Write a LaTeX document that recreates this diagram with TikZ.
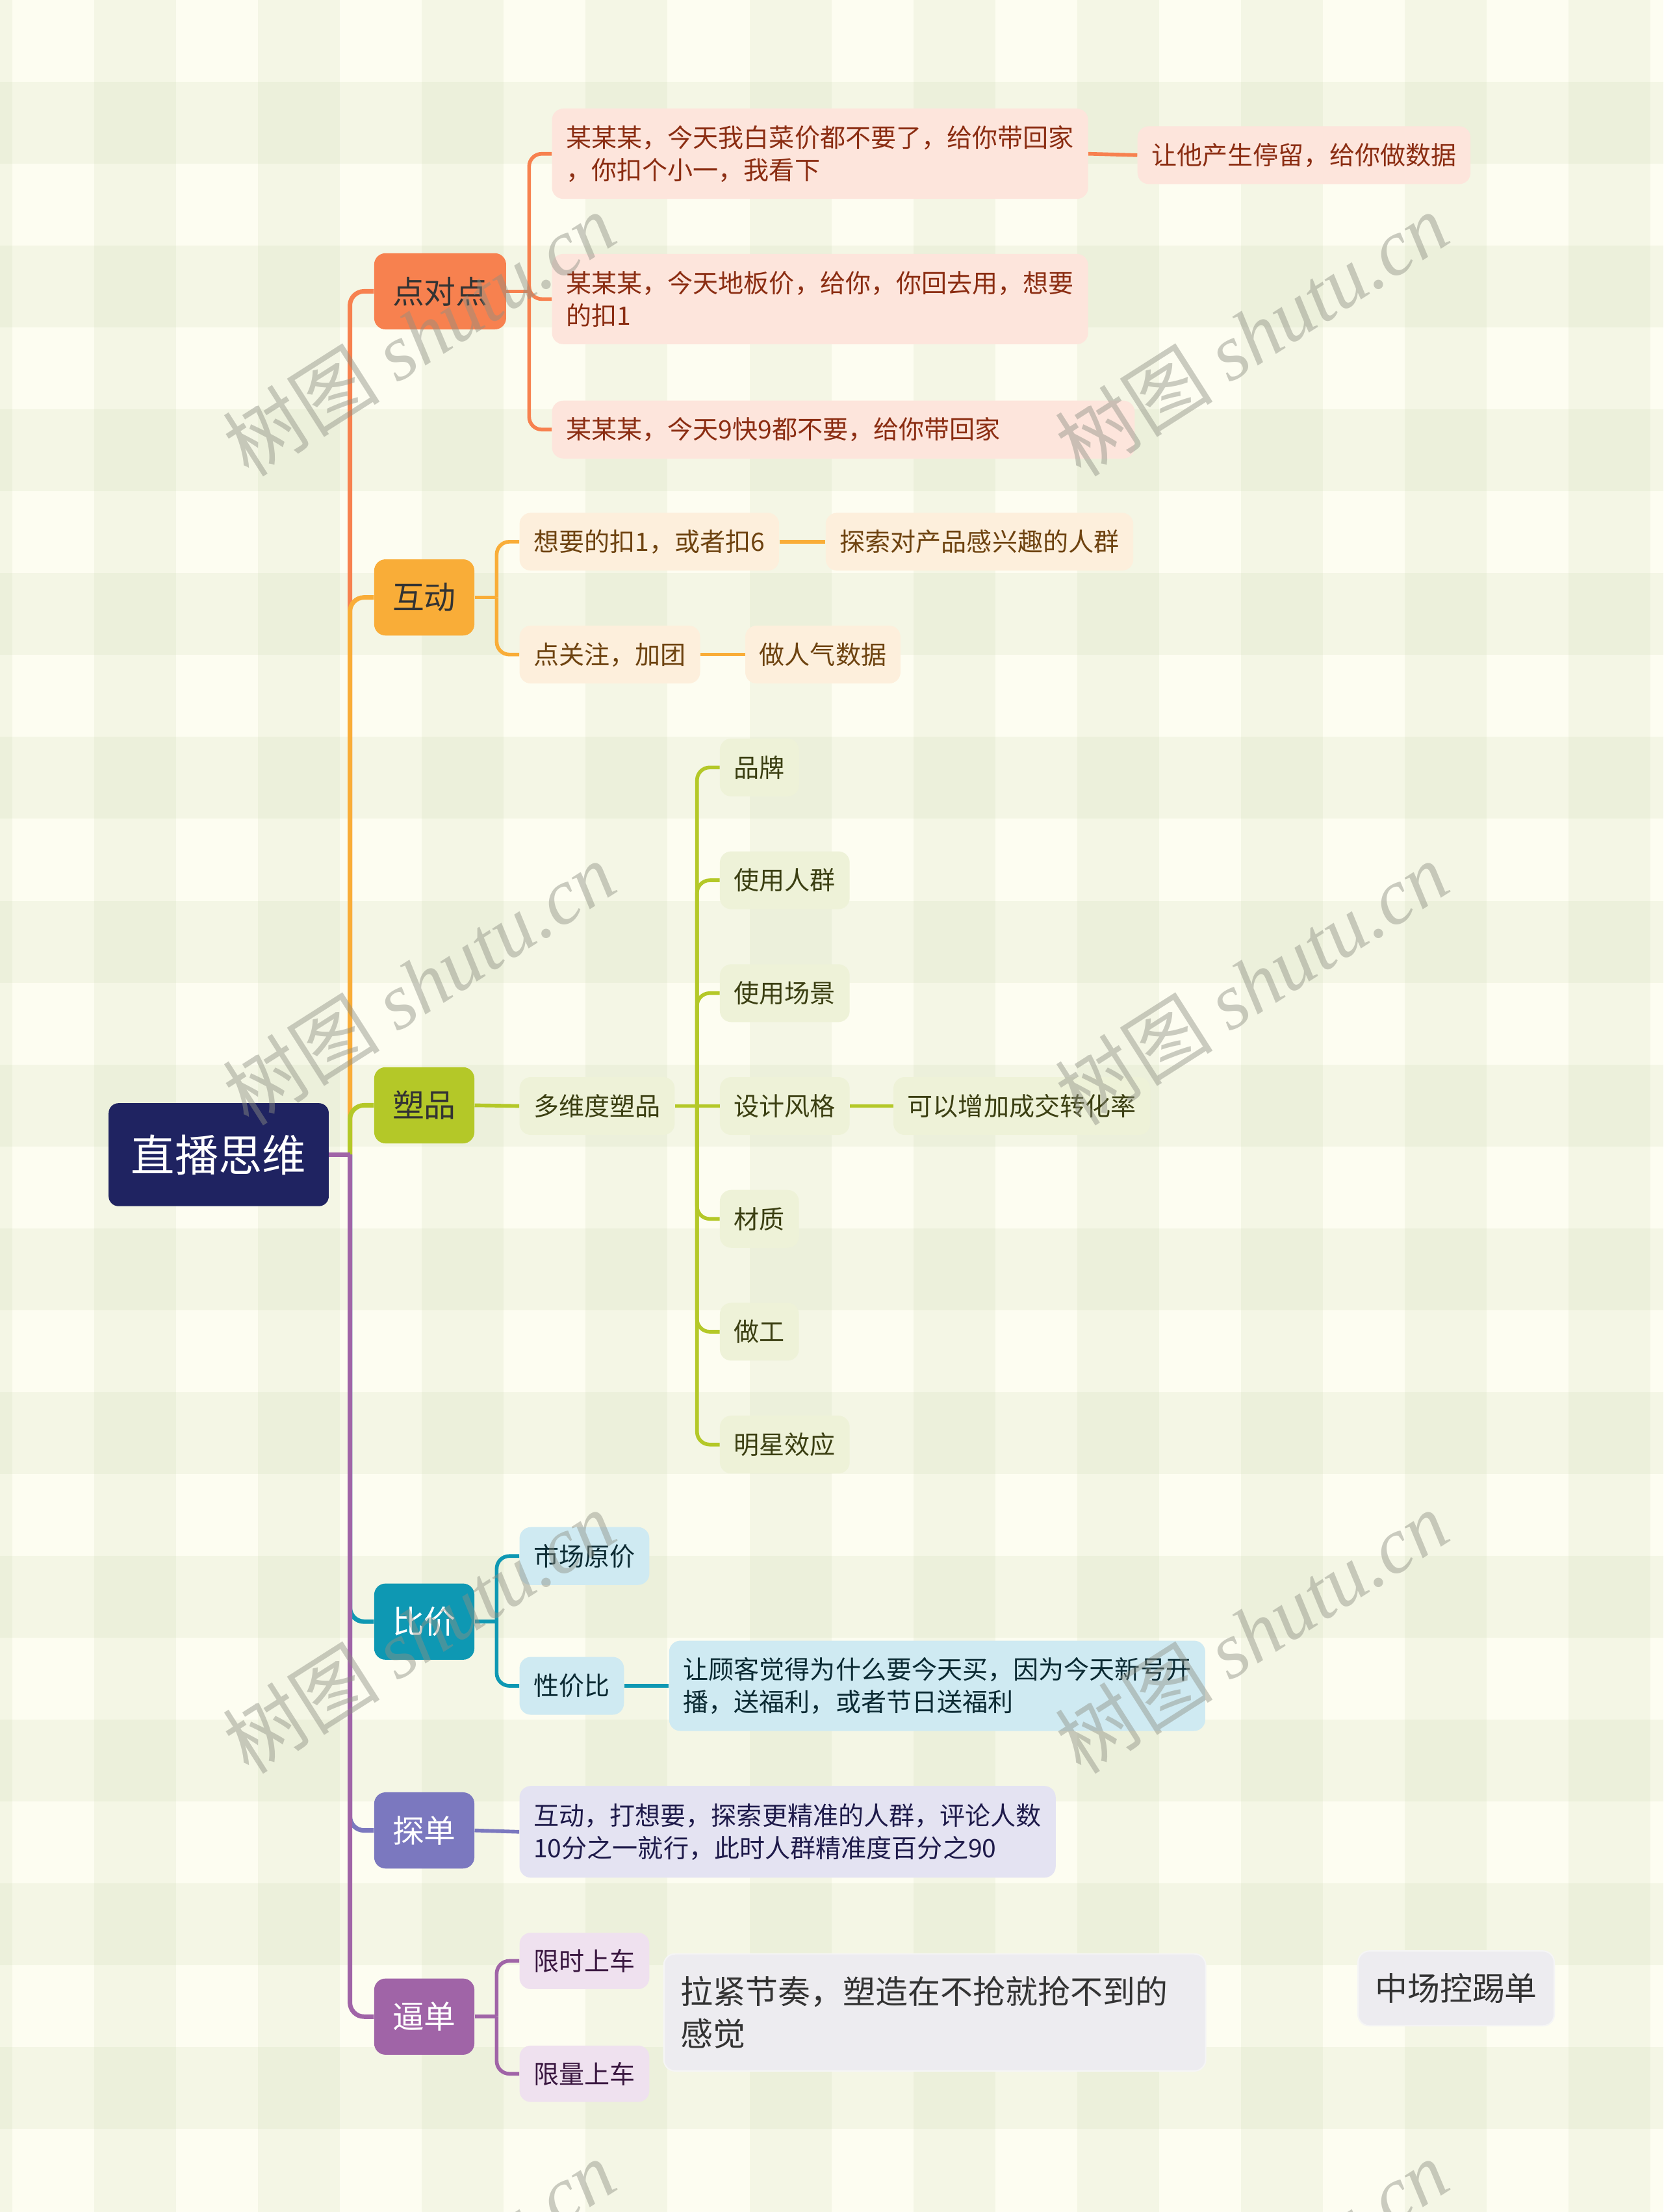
\documentclass[tikz,border=0pt]{standalone}
\usepackage{fontspec}
\setmainfont{Noto Sans CJK SC}
\newfontfamily\wmlatin{Liberation Serif}

\definecolor{paper}{HTML}{FDFDF1}
\definecolor{stripe}{HTML}{D0DAB5}
\definecolor{rootblue}{HTML}{1F2361}
\definecolor{ddOrange}{HTML}{F7814F}
\definecolor{hdAmber}{HTML}{F9AD38}
\definecolor{spLime}{HTML}{B4C828}
\definecolor{bjTeal}{HTML}{0E98B3}
\definecolor{tdIndigo}{HTML}{7B78BF}
\definecolor{bdPlum}{HTML}{A064A7}
\definecolor{ddFill}{HTML}{FDE5DC}
\definecolor{ddInk}{HTML}{8B2D12}
\definecolor{hdFill}{HTML}{FDEFDC}
\definecolor{hdInk}{HTML}{6E4310}
\definecolor{spFill}{HTML}{EEF2D8}
\definecolor{spInk}{HTML}{3B3F12}
\definecolor{bjFill}{HTML}{CFEAF2}
\definecolor{bjInk}{HTML}{0B2A33}
\definecolor{tdFill}{HTML}{E4E3F2}
\definecolor{tdInk}{HTML}{1E1A4A}
\definecolor{bdFill}{HTML}{EFE1EF}
\definecolor{bdInk}{HTML}{3A1740}
\definecolor{noteFill}{HTML}{EDECF0}
\definecolor{wmGray}{HTML}{8E9084}

\tikzset{
  rootbox/.style={rectangle, rounded corners=7pt, fill=rootblue, text=white,
    font=\fontsize{31}{36}\selectfont, minimum width=156pt, minimum height=73pt, inner sep=0pt},
  topicbox/.style={rectangle, rounded corners=8pt, minimum height=54pt, inner xsep=13pt,
    inner ysep=0pt, text=black!80, font=\fontsize{22.5}{27}\selectfont, anchor=west},
  leafbox/.style={rectangle, rounded corners=8pt, minimum height=41pt, inner xsep=10pt,
    inner ysep=0pt, font=\fontsize{18}{23}\selectfont, align=left, anchor=west},
  ddleaf/.style={leafbox, fill=ddFill, text=ddInk},
  hdleaf/.style={leafbox, fill=hdFill, text=hdInk},
  spleaf/.style={leafbox, fill=spFill, text=spInk},
  bjleaf/.style={leafbox, fill=bjFill, text=bjInk},
  tdleaf/.style={leafbox, fill=tdFill, text=tdInk},
  bdleaf/.style={leafbox, fill=bdFill, text=bdInk},
  notebox/.style={rectangle, rounded corners=8pt, fill=noteFill, draw=black!4, line width=1pt,
    text=black!80, inner xsep=12pt, inner ysep=0pt, font=\fontsize{23}{30}\selectfont, align=left},
  trunk/.style={line width=3.2pt, rounded corners=10pt},
  twig/.style={line width=2.6pt, rounded corners=9pt},
  watermark/.style={text=wmGray, text opacity=0.45, rotate=32.5, font=\fontsize{56}{60}\selectfont}
}

\begin{document}
\begin{tikzpicture}[x=1pt,y=-1pt]

\def\SW{58.05}
	\clip (0,0) rectangle (1179,1568);
	\fill[paper] (0,0) rectangle (1179,1568);
	% plaid background, columns
	\fill[stripe,opacity=0.2] (-49.3,0) rectangle ++ (\SW,1568);
	\fill[stripe,opacity=0.2] (66.8,0) rectangle ++ (\SW,1568);
	\fill[stripe,opacity=0.2] (182.9,0) rectangle ++ (\SW,1568);
	\fill[stripe,opacity=0.2] (299.0,0) rectangle ++ (\SW,1568);
	\fill[stripe,opacity=0.2] (415.1,0) rectangle ++ (\SW,1568);
	\fill[stripe,opacity=0.2] (531.2,0) rectangle ++ (\SW,1568);
	\fill[stripe,opacity=0.2] (647.3,0) rectangle ++ (\SW,1568);
	\fill[stripe,opacity=0.2] (763.4,0) rectangle ++ (\SW,1568);
	\fill[stripe,opacity=0.2] (879.5,0) rectangle ++ (\SW,1568);
	\fill[stripe,opacity=0.2] (995.6,0) rectangle ++ (\SW,1568);
	\fill[stripe,opacity=0.2] (1111.7,0) rectangle ++ (\SW,1568);
	% rows
	\fill[stripe,opacity=0.2] (0,58.0) rectangle ++ (1179,\SW);
	\fill[stripe,opacity=0.2] (0,174.1) rectangle ++ (1179,\SW);
	\fill[stripe,opacity=0.2] (0,290.2) rectangle ++ (1179,\SW);
	\fill[stripe,opacity=0.2] (0,406.3) rectangle ++ (1179,\SW);
	\fill[stripe,opacity=0.2] (0,522.4) rectangle ++ (1179,\SW);
	\fill[stripe,opacity=0.2] (0,638.5) rectangle ++ (1179,\SW);
	\fill[stripe,opacity=0.2] (0,754.6) rectangle ++ (1179,\SW);
	\fill[stripe,opacity=0.2] (0,870.7) rectangle ++ (1179,\SW);
	\fill[stripe,opacity=0.2] (0,986.8) rectangle ++ (1179,\SW);
	\fill[stripe,opacity=0.2] (0,1102.9) rectangle ++ (1179,\SW);
	\fill[stripe,opacity=0.2] (0,1219.0) rectangle ++ (1179,\SW);
	\fill[stripe,opacity=0.2] (0,1335.1) rectangle ++ (1179,\SW);
	\fill[stripe,opacity=0.2] (0,1451.2) rectangle ++ (1179,\SW);

	% root and main topics
	\node[rootbox] (root) at (155,818.5) {直播思维};
	\coordinate (hub) at (248,818.5);
	\node[topicbox,fill=ddOrange] (ddd) at (265,206.5) {点对点};
	\node[topicbox,fill=hdAmber] (hd) at (265,423.5) {互动};
	\node[topicbox,fill=spLime] (sp) at (265,783.5) {塑品};
	\node[topicbox,fill=bjTeal,text=white] (bj) at (265,1149.5) {比价};
	\node[topicbox,fill=tdIndigo,text=white] (td) at (265,1297.5) {探单};
	\node[topicbox,fill=bdPlum,text=white] (bd) at (265,1429.5) {逼单};

	\draw[trunk,ddOrange] (hub) |- (ddd.west);
	\draw[trunk,hdAmber] (hub) |- (hd.west);
	\draw[trunk,spLime] (hub) |- (sp.west);
	\draw[trunk,bjTeal] (hub) |- (bj.west);
	\draw[trunk,tdIndigo] (hub) |- (td.west);
	\draw[trunk,bdPlum] (hub) |- (bd.west);
	\draw[trunk,bdPlum] (root.east) -- (hub);

	% 点对点
	\node[ddleaf,text width=360pt,minimum height=64pt] (dd1) at (391,109) {某某某，今天我白菜价都不要了，给你带回家\\，你扣个小一，我看下};
	\node[ddleaf,text width=360pt,minimum height=64pt] (dd2) at (391,212) {某某某，今天地板价，给你，你回去用，想要\\的扣1};
	\node[ddleaf,text width=393pt] (dd3) at (391,304.5) {某某某，今天9快9都不要，给你带回家};
	\node[ddleaf] (dd11) at (806,110) {让他产生停留，给你做数据};
	\coordinate (ddfork) at (375,206.5);
	\draw[twig,ddOrange] (ddd.east) -- (ddfork);
	\draw[twig,ddOrange] (ddfork) |- (dd1.west);
	\draw[twig,ddOrange] (ddfork) |- (dd2.west);
	\draw[twig,ddOrange] (ddfork) |- (dd3.west);
	\draw[twig,ddOrange] (dd1.east) -- (dd11.west);

	% 互动
	\node[hdleaf] (hd1) at (368,384) {想要的扣1，或者扣6};
	\node[hdleaf] (hd11) at (585,384) {探索对产品感兴趣的人群};
	\node[hdleaf] (hd2) at (368,464) {点关注，加团};
	\node[hdleaf] (hd21) at (528,464) {做人气数据};
	\coordinate (hdfork) at (352,423.5);
	\draw[twig,hdAmber] (hd.east) -- (hdfork);
	\draw[twig,hdAmber] (hdfork) |- (hd1.west);
	\draw[twig,hdAmber] (hdfork) |- (hd2.west);
	\draw[twig,hdAmber] (hd1.east) -- (hd11.west);
	\draw[twig,hdAmber] (hd2.east) -- (hd21.west);

	% 塑品
	\node[spleaf] (sp0) at (368,784) {多维度塑品};
	\node[spleaf] (sp1) at (510,544) {品牌};
	\node[spleaf] (sp2) at (510,624) {使用人群};
	\node[spleaf] (sp3) at (510,704) {使用场景};
	\node[spleaf] (sp4) at (510,784) {设计风格};
	\node[spleaf] (sp5) at (510,864) {材质};
	\node[spleaf] (sp6) at (510,944) {做工};
	\node[spleaf] (sp7) at (510,1024) {明星效应};
	\node[spleaf] (sp41) at (633,784) {可以增加成交转化率};
	\coordinate (spfork) at (494,784);
	\draw[twig,spLime] (sp.east) -- (sp0.west);
	\draw[twig,spLime] (sp0.east) -- (spfork);
	\draw[twig,spLime] (spfork) |- (sp1.west);
	\draw[twig,spLime] (spfork) |- (sp2.west);
	\draw[twig,spLime] (spfork) |- (sp3.west);
	\draw[twig,spLime] (spfork) -- (sp4.west);
	\draw[twig,spLime] (spfork) |- (sp5.west);
	\draw[twig,spLime] (spfork) |- (sp6.west);
	\draw[twig,spLime] (spfork) |- (sp7.west);
	\draw[twig,spLime] (sp4.east) -- (sp41.west);

	% 比价
	\node[bjleaf] (bj1) at (368,1103) {市场原价};
	\node[bjleaf] (bj2) at (368,1195) {性价比};
	\node[bjleaf,text width=360pt,minimum height=64pt] (bj21) at (474,1195) {让顾客觉得为什么要今天买，因为今天新号开\\播，送福利，或者节日送福利};
	\coordinate (bjfork) at (352,1149.5);
	\draw[twig,bjTeal] (bj.east) -- (bjfork);
	\draw[twig,bjTeal] (bjfork) |- (bj1.west);
	\draw[twig,bjTeal] (bjfork) |- (bj2.west);
	\draw[twig,bjTeal] (bj2.east) -- (bj21.west);

	% 探单
	\node[tdleaf,text width=360pt,minimum height=65pt] (td1) at (368,1298.5) {互动，打想要，探索更精准的人群，评论人数\\10分之一就行，此时人群精准度百分之90};
	\draw[twig,tdIndigo] (td.east) -- (td1.west);

	% 逼单
	\node[bdleaf,minimum height=40pt] (bd1) at (368,1390) {限时上车};
	\node[bdleaf,minimum height=40pt] (bd2) at (368,1470) {限量上车};
	\coordinate (bdfork) at (352,1429.5);
	\draw[twig,bdPlum] (bd.east) -- (bdfork);
	\draw[twig,bdPlum] (bdfork) |- (bd1.west);
	\draw[twig,bdPlum] (bdfork) |- (bd2.west);

	% loose notes
	\node[notebox,anchor=west,text width=360pt,minimum height=83pt] (pace) at (470,1426.5) {拉紧节奏，塑造在不抢就抢不到的\\感觉};
	\node[notebox,minimum height=53pt] (midctl) at (1032,1409.5) {中场控踢单};

	% watermarks
	\node[watermark] (wm1) at (297,237) {树图 {\wmlatin\itshape shutu.cn}};
	\node[watermark] (wm2) at (887,237) {树图 {\wmlatin\itshape shutu.cn}};
	\node[watermark] (wm3) at (297,697) {树图 {\wmlatin\itshape shutu.cn}};
	\node[watermark] (wm4) at (887,697) {树图 {\wmlatin\itshape shutu.cn}};
	\node[watermark] (wm5) at (297,1157) {树图 {\wmlatin\itshape shutu.cn}};
	\node[watermark] (wm6) at (887,1157) {树图 {\wmlatin\itshape shutu.cn}};
	\node[watermark] (wm7) at (297,1617) {树图 {\wmlatin\itshape shutu.cn}};
	\node[watermark] (wm8) at (887,1617) {树图 {\wmlatin\itshape shutu.cn}};

\end{tikzpicture}
\end{document}
